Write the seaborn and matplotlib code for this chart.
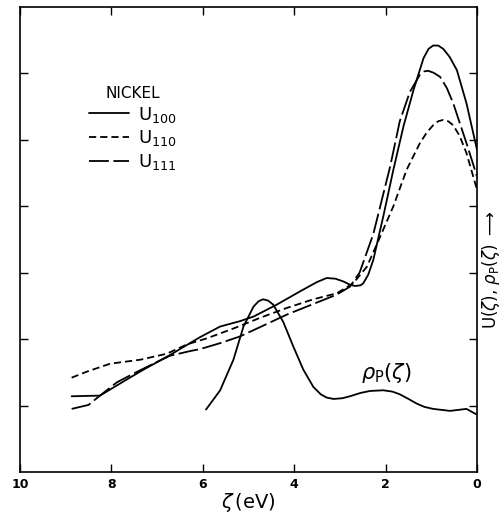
import matplotlib
matplotlib.use("Agg")
import matplotlib.pyplot as plt
import seaborn as sns

# ---- data ----
u100_x = [8.87, 8.25, 7.96, 7.67, 7.30, 6.72, 6.06, 5.62, 5.19, 4.89, 4.38, 3.87, 3.50, 3.29,
          3.10, 2.93, 2.78, 2.67, 2.55, 2.49, 2.38, 2.27, 2.05, 1.83, 1.61, 1.39, 1.17, 1.06,
          0.96, 0.85, 0.74, 0.60, 0.44, 0.23, 0.0]
u100_y = [1.14, 1.15, 1.27, 1.39, 1.54, 1.76, 2.03, 2.19, 2.27, 2.34, 2.52, 2.72, 2.86, 2.92,
          2.91, 2.87, 2.82, 2.80, 2.81, 2.84, 2.97, 3.19, 3.85, 4.55, 5.20, 5.75, 6.23, 6.37,
          6.42, 6.42, 6.37, 6.25, 6.05, 5.55, 4.85]

u110_x = [8.87, 8.54, 8.03, 7.37, 6.79, 6.35, 5.92, 5.33, 4.75, 4.16, 3.58, 3.07, 2.71,
          2.41, 2.12, 1.83, 1.54, 1.25, 1.10, 0.96, 0.85, 0.74, 0.63, 0.52, 0.38, 0.23, 0.0]
u110_y = [1.42, 1.51, 1.63, 1.69, 1.78, 1.92, 2.01, 2.16, 2.32, 2.47, 2.60, 2.69, 2.84,
          3.09, 3.54, 4.00, 4.55, 4.95, 5.11, 5.22, 5.28, 5.30, 5.28, 5.22, 5.06, 4.80, 4.25]

u111_x = [8.87, 8.50, 8.25, 7.88, 7.52, 7.08, 6.72, 6.28, 6.06, 5.62, 5.19, 4.75, 4.16,
          3.58, 3.07, 2.78, 2.57, 2.27, 1.90, 1.69, 1.47, 1.25, 1.16, 1.07, 0.95, 0.81,
          0.66, 0.52, 0.23, 0.0]
u111_y = [0.95, 1.01, 1.15, 1.35, 1.48, 1.63, 1.75, 1.82, 1.85, 1.94, 2.04, 2.18, 2.37,
          2.53, 2.67, 2.79, 3.00, 3.58, 4.60, 5.28, 5.72, 5.98, 6.03, 6.04, 6.01, 5.95,
          5.78, 5.55, 4.95, 4.45]

rho_x = [5.93, 5.62, 5.33, 5.11, 4.89, 4.78, 4.68, 4.57, 4.46, 4.24, 4.02, 3.80, 3.58,
         3.42, 3.29, 3.14, 2.95, 2.78, 2.55, 2.34, 2.05, 1.85, 1.69, 1.50, 1.32, 1.15,
         0.96, 0.59, 0.23, 0.02]
rho_y = [0.94, 1.23, 1.69, 2.19, 2.49, 2.57, 2.60, 2.58, 2.52, 2.26, 1.89, 1.54, 1.28,
         1.17, 1.12, 1.10, 1.11, 1.14, 1.19, 1.22, 1.23, 1.21, 1.17, 1.10, 1.03, 0.98,
         0.95, 0.92, 0.95, 0.87]

x_ticks = [10, 8, 6, 4, 2, 0]
y_ticks = [1, 2, 3, 4, 5, 6]
series_labels = [r"U$_{100}$", r"U$_{110}$", r"U$_{111}$"]

# ---- figure ----
sns.set_style("white")
plt.rcParams["font.family"] = ["DejaVu Sans"]
plt.rcParams["mathtext.fontset"] = "dejavusans"
plt.rcParams["text.color"] = "black"
plt.rcParams["axes.labelcolor"] = "black"
plt.rcParams["xtick.color"] = "black"
plt.rcParams["ytick.color"] = "black"

fig = plt.figure(figsize=(5.02, 5.15), dpi=100)
ax = fig.add_axes([20 / 502, 43 / 515, 457 / 502, 465 / 515])

lw = 1.3
sns.lineplot(x=u100_x, y=u100_y, ax=ax, sort=False, estimator=None, color="black", lw=lw)
sns.lineplot(x=u110_x, y=u110_y, ax=ax, sort=False, estimator=None, color="black", lw=lw)
sns.lineplot(x=u111_x, y=u111_y, ax=ax, sort=False, estimator=None, color="black", lw=lw)
sns.lineplot(x=rho_x, y=rho_y, ax=ax, sort=False, estimator=None, color="black", lw=lw)

lines = ax.get_lines()
for ln in lines:
    ln.set_solid_joinstyle("round")
    ln.set_dash_joinstyle("round")
lines[1].set_dashes((4, 2.2))
lines[2].set_dashes((11, 2.5))

ax.set_xlim(10, 0)
ax.set_ylim(0, 7)
ax.set_xticks(x_ticks)
ax.set_xticklabels([str(t) for t in x_ticks], fontsize=9, fontweight="bold")
ax.set_yticks(y_ticks)
ax.set_yticklabels([])
ax.tick_params(axis="both", direction="in", length=6, width=1.0,
               top=True, right=True, left=True, bottom=True, pad=4)
for sp in ax.spines.values():
    sp.set_visible(True)
    sp.set_color("black")
    sp.set_linewidth(1.2)

ax.set_xlabel(r"$\zeta\,$(eV)", fontsize=14, labelpad=0)
ax.text(1.99, 1.49, r"$\rho_{\mathrm{P}}(\zeta)$", fontsize=15, ha="center", va="center")

leg = ax.legend(lines[:3], series_labels, title="NICKEL", frameon=False,
                loc="upper left", bbox_to_anchor=(0.115, 0.865),
                fontsize=13, title_fontsize=11, handlelength=2.2,
                handletextpad=0.5, labelspacing=0.2)

fig.text(491 / 502, 245 / 515, r"U$(\zeta)$, $\rho_{\mathrm{P}}(\zeta)$ $\longrightarrow$",
         rotation=90, ha="center", va="center", fontsize=12)

fig.savefig("out.png", dpi=100, facecolor="white")
